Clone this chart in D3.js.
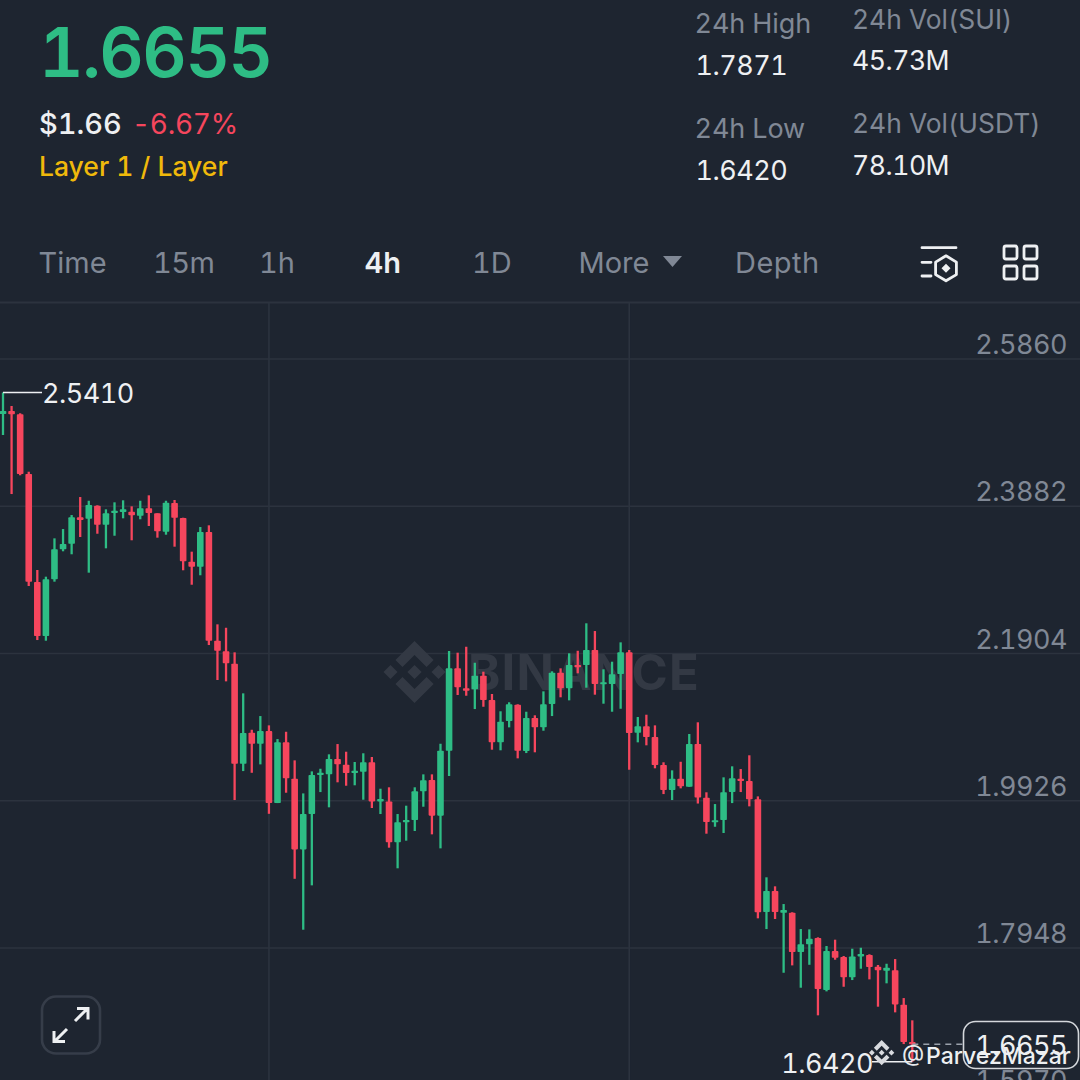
<!DOCTYPE html>
<html><head><meta charset="utf-8">
<script src="https://d3js.org/d3.v7.min.js"></script>
<style>html,body{margin:0;padding:0;background:#1e2530;overflow:hidden}svg{display:block}text{font-family:Inter,"Noto Sans",sans-serif;font-feature-settings:"tnum" 1}</style>
</head><body>
<div id="chart"></div>
<script>
const opens=[2.5121,2.5161,2.5117,2.4315,2.2865,2.2139,2.2901,2.3304,2.3379,2.3733,2.3715,2.3889,2.3634,2.3791,2.3805,2.3809,2.3755,2.3855,2.3787,2.3540,2.3926,2.3724,2.3137,2.3070,2.3536,2.2076,2.1933,2.1767,2.0423,2.0840,2.0692,2.0862,1.9895,2.0711,2.0222,1.9273,1.9748,2.0271,2.0281,2.0487,2.0410,2.0299,2.0316,2.0443,1.9918,1.9918,1.9368,1.9637,1.9668,2.0053,2.0205,1.9726,2.0598,2.1705,2.1436,2.1423,2.1606,2.1279,2.0711,2.0997,2.1216,2.0594,2.1038,2.0912,2.1226,2.1646,2.1436,2.1750,2.1750,2.1951,2.1490,2.1494,2.1629,2.1920,2.0840,2.0926,2.0782,2.0406,2.0070,2.0222,2.0114,2.0688,1.9967,1.9637,1.9668,2.0043,2.0222,2.0191,1.9945,1.8432,1.8714,1.8422,1.8422,1.7894,1.7998,1.8082,1.7384,1.7907,1.7827,1.7555,1.7836,1.7854,1.7697,1.7643,1.7649,1.7187,1.6685];
const closes=[2.5161,2.5117,2.4315,2.2869,2.2139,2.2901,2.3304,2.3375,2.3733,2.3697,2.3899,2.3634,2.3787,2.3822,2.3841,2.3760,2.3855,2.3791,2.3546,2.3930,2.3728,2.3143,2.3070,2.3536,2.2076,2.1941,2.1772,2.0423,2.0836,2.0692,2.0862,1.9895,2.0711,2.0227,1.9273,1.9748,2.0271,2.0302,2.0487,2.0415,2.0299,2.0330,2.0443,1.9918,1.9950,1.9368,1.9637,1.9668,2.0053,2.0201,1.9726,2.0598,2.1705,2.1450,2.1404,2.1606,2.1279,2.0711,2.0988,2.1222,2.0598,2.1038,2.0912,2.1222,2.1646,2.1436,2.1750,2.1719,2.1951,2.1494,2.1517,2.1625,2.1920,2.0836,2.0926,2.0782,2.0406,2.0070,2.0222,2.0120,2.0688,1.9970,1.9641,1.9664,2.0040,2.0227,2.0191,1.9945,1.8428,1.8714,1.8432,1.8458,1.7894,1.7998,1.8073,1.7397,1.7907,1.7818,1.7555,1.7836,1.7868,1.7693,1.7649,1.7683,1.7191,1.6685,1.6655];
const highs=[2.5410,2.5229,2.5131,2.4346,2.3026,2.2936,2.3451,2.3576,2.3764,2.4006,2.3956,2.3895,2.3841,2.3935,2.3962,2.3881,2.3956,2.4029,2.3787,2.3956,2.3966,2.3728,2.3272,2.3603,2.3626,2.2296,2.2250,2.1920,2.1369,2.0880,2.1064,2.0939,2.0755,2.0853,2.0469,2.0025,2.0321,2.0356,2.0550,2.0688,2.0585,2.0447,2.0564,2.0514,2.0088,2.0107,1.9748,1.9860,2.0107,2.0281,2.0281,2.0692,2.1938,2.1915,2.1995,2.1780,2.1660,2.1360,2.1128,2.1249,2.1222,2.1122,2.1074,2.1396,2.1665,2.1705,2.1907,2.1941,2.2310,2.2206,2.1692,2.1794,2.2054,2.1951,2.1051,2.1082,2.0939,2.0443,2.0335,2.0450,2.0823,2.0980,2.0040,1.9882,2.0241,2.0389,2.0352,2.0537,1.9985,1.8898,1.8777,1.8539,1.8428,1.8203,1.8199,1.8092,1.7975,1.8060,1.7841,1.7939,1.7952,1.7864,1.7720,1.7737,1.7800,1.7276,1.6977];
const lows=[2.4839,2.4046,2.4298,2.2811,2.2085,2.2076,2.2869,2.3277,2.3237,2.3469,2.2990,2.3513,2.3317,2.3486,2.3720,2.3425,2.3707,2.3617,2.3460,2.3500,2.3339,2.3022,2.2828,2.2955,2.2018,2.1548,2.1530,1.9936,2.0325,2.0302,2.0415,1.9751,1.9895,2.0034,1.8878,1.8194,1.8790,2.0043,1.9838,2.0174,2.0128,2.0134,1.9940,1.9829,1.9748,1.9296,1.9019,1.9390,1.9520,1.9846,1.9475,1.9287,2.0259,2.1347,2.1337,2.1158,2.1189,2.0612,2.0604,2.0912,2.0496,2.0567,2.0577,2.0867,2.1064,2.1316,2.1275,2.1638,2.1445,2.1351,2.1230,2.1122,2.1162,2.0343,2.0711,2.0671,2.0362,2.0016,1.9936,2.0093,2.0114,1.9889,1.9484,1.9577,1.9493,1.9895,2.0043,1.9851,1.8347,1.8203,1.8338,1.7616,1.7715,1.7415,1.7723,1.7044,1.7366,1.7791,1.7428,1.7518,1.7670,1.7527,1.7160,1.7474,1.7084,1.6658,1.6420];
const priceTicks=[2.5860,2.3882,2.1904,1.9926,1.7948,1.5970];
const timeTicks=[31,73];
const tabs=[["Time",38.5],["15m",153],["1h",259],["4h",364.5],["1D",472],["More",578.5],["Depth",735]];
const lastPrice=1.6655, periodHigh=2.5410, periodLow=1.6420;

const BG="#1e2530",UP="#2ebd85",DOWN="#f6465d",GRID="#2c333e",MUTED="#808895",WHITE="#eef0f2";
const svg=d3.select("#chart").append("svg").attr("width",1080).attr("height",1080);
svg.append("rect").attr("width",1080).attr("height",1080).attr("fill",BG);

const x=d3.scaleLinear().domain([0,opens.length-1]).range([3,912.3]);
const y=d3.scaleLinear().domain([2.5860,1.5970]).range([359,1095.3]);

function T(s,px,py,size,fill,weight,anchor,ls){return svg.append("text").attr("x",px).attr("y",py).attr("font-size",size).attr("fill",fill).attr("font-weight",weight||400).attr("text-anchor",anchor||"start").attr("letter-spacing",ls||0).text(s);}

// header
T("1.6655",39,77,69,UP,600,"start",-1.5);
T("$1.66",39,134,29,WHITE,500);
T("-6.67%",132,134,28,DOWN,400,"start",-0.3);
T("Layer 1 / Layer",39,176,26.5,"#f0b90b",500);
T("24h High",694.5,33,27,MUTED,400,"start",-0.1);T("1.7871",695.5,75,27,WHITE,400,"start",-0.5);
T("24h Low",694.5,138,27,MUTED,400,"start",-0.1);T("1.6420",695.5,180,27,WHITE,400,"start",-0.5);
T("24h Vol(SUI)",852,29,26.4,MUTED);T("45.73M",852,70,26.6,WHITE,400,"start",-0.5);
T("24h Vol(USDT)",852,133,26.4,MUTED);T("78.10M",852,175,26.6,WHITE,400,"start",-0.5);
tabs.forEach(([s,px])=>T(s,px,273,29,s==="4h"?WHITE:MUTED,s==="4h"?600:400,"start",s==="Depth"?0.5:(s==="15m"?-0.5:0)));
svg.append("path").attr("d","M663 256H682L672.5 267Z").attr("fill",MUTED);

// icons
const ic=svg.append("g").attr("fill","none").attr("stroke",WHITE).attr("stroke-width",2.8).attr("stroke-linecap","round");
ic.append("path").attr("d","M922 247.7H956M922 262.3H931M922 276H931");
ic.append("path").attr("d",d3.range(6).map(i=>{const a=Math.PI/3*i-Math.PI/2;return (i?"L":"M")+(946+12*Math.cos(a)).toFixed(1)+" "+(268.3+12.5*Math.sin(a)).toFixed(1)}).join("")+"Z").attr("stroke-linejoin","round");
svg.append("path").attr("d","M946 263.8L950.5 268.3L946 272.8L941.5 268.3Z").attr("fill",WHITE);
[[1003,245],[1023,245],[1003,265],[1023,265]].forEach(([a,b])=>ic.append("rect").attr("x",a+1).attr("y",b+1).attr("width",13).attr("height",13).attr("rx",2));

// frame & grid
svg.append("line").attr("x1",0).attr("x2",1080).attr("y1",302.5).attr("y2",302.5).attr("stroke",GRID).attr("stroke-width",2);
svg.selectAll(".gy").data(priceTicks).join("line").attr("x1",0).attr("x2",1080).attr("y1",d=>y(d)).attr("y2",d=>y(d)).attr("stroke",GRID).attr("stroke-width",1.6);
svg.selectAll(".gx").data(timeTicks).join("line").attr("x1",d=>x(d)).attr("x2",d=>x(d)).attr("y1",303).attr("y2",1080).attr("stroke",GRID).attr("stroke-width",1.6);

// watermark
const LOGO="M38.73 53.2l24.59-24.58 24.6 24.6 14.3-14.31L63.32 0 24.42 38.9zM0 63.31l14.3-14.31 14.31 14.31-14.31 14.3zM38.73 73.41l24.59 24.59 24.6-24.6 14.31 14.29-38.9 38.91-38.91-38.88-.02-.02zM98.03 63.31l14.3-14.31 14.31 14.3-14.31 14.32zM77.83 63.3L63.32 48.78 52.59 59.51l-1.24 1.23-2.54 2.54 14.51 14.5 14.51-14.47z";
svg.append("path").attr("d",LOGO).attr("fill","#333944").attr("transform","translate(383.5,641) scale(0.49)");
T("BINANCE",468,690,49,"#333944",700,"start",1.2);

// candles
const data=opens.map((o,i)=>({i,o,c:closes[i],h:highs[i],l:lows[i]}));
const col=d=>d.c>=d.o?UP:DOWN;
svg.selectAll(".wick").data(data).join("line").attr("x1",d=>x(d.i)).attr("x2",d=>x(d.i)).attr("y1",d=>y(d.h)).attr("y2",d=>y(d.l)).attr("stroke",col).attr("stroke-width",2.3);
svg.selectAll(".body").data(data).join("rect").attr("x",d=>x(d.i)-3.3).attr("width",6.6).attr("y",d=>y(Math.max(d.o,d.c))).attr("height",d=>Math.max(2,Math.abs(y(d.o)-y(d.c)))).attr("fill",col).attr("rx",0.8);

// price labels
priceTicks.forEach(p=>T(p.toFixed(4),1067,y(p)-5,27,MUTED,400,"end",-0.5));

// high/low/last annotations
const lastX=x(opens.length-1);
svg.append("line").attr("x1",x(0)).attr("x2",42).attr("y1",y(periodHigh)).attr("y2",y(periodHigh)).attr("stroke",WHITE).attr("stroke-width",1.5);
T(periodHigh.toFixed(4),42,y(periodHigh)+10,27,WHITE,400,"start",-0.5);
svg.append("line").attr("x1",lastX).attr("x2",872).attr("y1",y(periodLow)).attr("y2",y(periodLow)).attr("stroke",WHITE).attr("stroke-width",1.5);
T(periodLow.toFixed(4),873,y(periodLow)+11,27,WHITE,400,"end",-0.5);
svg.append("line").attr("x1",lastX).attr("x2",963).attr("y1",y(lastPrice)).attr("y2",y(lastPrice)).attr("stroke","#9aa1ab").attr("stroke-width",1.5).attr("stroke-dasharray","6 5");
svg.append("rect").attr("x",963.5).attr("y",1021.5).attr("width",115).attr("height",47).attr("rx",12).attr("fill",BG).attr("stroke","#d5d8dc").attr("stroke-width",1.6);
T(lastPrice.toFixed(4),1067,y(lastPrice)+10.5,27,WHITE,400,"end",-0.5);

// expand button
svg.append("rect").attr("x",42).attr("y",996.5).attr("width",58).attr("height",57).attr("rx",14).attr("fill","none").attr("stroke","#363d49").attr("stroke-width",2.6);
svg.append("path").attr("d","M75 1021L87.5 1008.5M77 1008.5H88V1019.5M67 1029L54.5 1041.5M54 1031V1041.5H65").attr("fill","none").attr("stroke",WHITE).attr("stroke-width",3);

// credit overlay
svg.append("path").attr("d",LOGO).attr("fill","#d8dade").attr("transform","translate(869,1040) scale(0.2)");
T("@",902,1061,23,"#e8eaec");
T("ParvezMazar",926,1064,23,WHITE,500);
</script>
</body></html>
